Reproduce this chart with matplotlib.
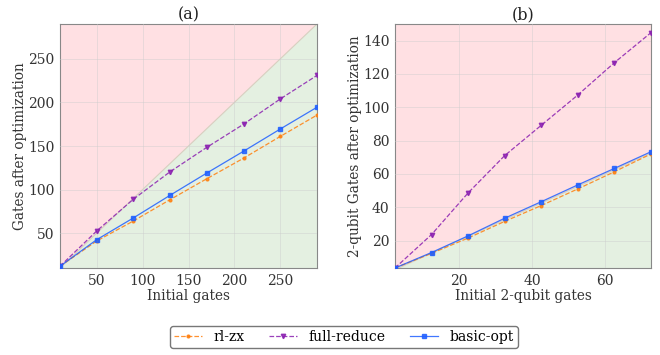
import matplotlib.pyplot as plt

plt.rcParams['font.family'] = ['DejaVu Serif']

# panel (a): all gates
gates_x = [10, 50, 90, 130, 170, 210, 250, 290]
gates_rlzx = [12, 41, 64, 88.5, 112.5, 136, 161, 185.5]
gates_full = [12, 52.5, 89, 120.5, 148.5, 175, 204, 231]
gates_basic = [12, 42.5, 67.5, 93.5, 119, 144, 169.5, 194.5]

# panel (b): 2-qubit gates
cx_x = [2.5, 12.5, 22.5, 32.5, 42.5, 52.5, 62.5, 72.5]
cx_rlzx = [3.5, 12.3, 21.5, 31.5, 41, 51, 61.3, 72]
cx_full = [3.5, 23.6, 48.6, 71, 89.2, 107.4, 126.8, 144.8]
cx_basic = [3.5, 12.8, 22.8, 33.4, 43.3, 53.4, 63.3, 73.3]

series = ['rl-zx', 'full-reduce', 'basic-opt']
colors = ['#ff7f0e', '#8a1fb0', '#1f5fff']
markers = ['o', 'v', 's']
styles = ['--', '--', '-']


def draw(ax, x, ys, xlim, ylim, xlabel, ylabel, title):
    x0, x1 = xlim
    y0, y1 = ylim
    ax.fill_between([x0, x1], [x0, x1], [y1, y1], color='#ffe0e3', zorder=0)
    ax.fill_between([x0, x1], [y0, y0], [x0, x1], color='#e4f0e1', zorder=0)
    ax.plot([x0, x1], [x0, x1], color='#d8cfc0', lw=0.8, zorder=1)
    for y, name, c, m, ls in zip(ys, series, colors, markers, styles):
        ax.plot(x, y, ls, color=c, marker=m, ms=2 if m == 'o' else 3.2,
                lw=0.9, alpha=0.85, label=name, zorder=3)
    ax.set_xlim(xlim)
    ax.set_ylim(ylim)
    ax.grid(True, color='#cccccc', lw=0.6, alpha=0.5)
    ax.set_axisbelow(False)
    for s in ax.spines.values():
        s.set_color('#888888')
    ax.tick_params(length=0, labelsize=10, colors='#333333', pad=4)
    ax.set_xlabel(xlabel, fontsize=9.8, color='#333333', labelpad=1)
    ax.set_ylabel(ylabel, fontsize=9.8, color='#333333', labelpad=1)
    ax.set_title(title, fontsize=11.5, color='#222222', pad=3)


fig = plt.figure(figsize=(6.6, 3.55), dpi=100)
ax1 = fig.add_axes([60 / 660, 1 - 268 / 355, 257 / 660, 244 / 355])
ax2 = fig.add_axes([395 / 660, 1 - 268 / 355, 256 / 660, 244 / 355])

draw(ax1, gates_x, [gates_rlzx, gates_full, gates_basic], (10, 290), (10, 290),
     'Initial gates', 'Gates after optimization', '(a)')
ax1.set_xticks([50, 100, 150, 200, 250])
ax1.set_yticks([50, 100, 150, 200, 250])

draw(ax2, cx_x, [cx_rlzx, cx_full, cx_basic], (2.5, 72.5), (3.5, 150),
     'Initial 2-qubit gates', '2-qubit Gates after optimization', '(b)')
ax2.set_xticks([20, 40, 60])
ax2.set_yticks([20, 40, 60, 80, 100, 120, 140])

handles, labels = ax1.get_legend_handles_labels()
leg = fig.legend(handles, labels, loc='center', bbox_to_anchor=(344 / 660, 1 - 337 / 355),
                 ncol=3, fontsize=10, frameon=True, fancybox=True, columnspacing=1.8,
                 handlelength=2.0, borderpad=0.3)
leg.get_frame().set_edgecolor('#555555')

plt.savefig('out.png')
plt.close()
